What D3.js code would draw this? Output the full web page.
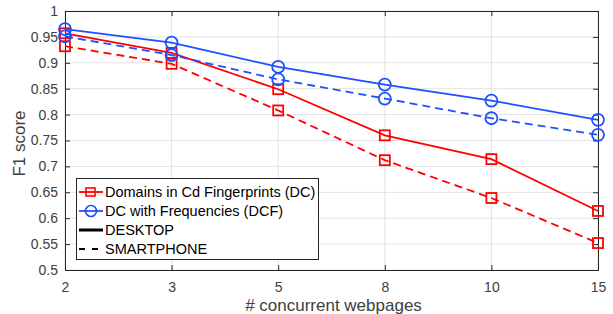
<!DOCTYPE html>
<html><head><meta charset="utf-8">
<script src="https://cdn.jsdelivr.net/npm/d3@7"></script>
<style>body{margin:0;background:#fff}svg{display:block}text{font-family:"Liberation Sans",Arial,sans-serif}</style>
</head><body>
<svg id="c" width="613" height="314"></svg>
<script>
const categories = ["2","3","5","8","10","15"];
const yTicks = [0.5,0.55,0.6,0.65,0.7,0.75,0.8,0.85,0.9,0.95,1];
const dcDesktop = [0.957,0.919,0.849,0.760,0.714,0.614];
const dcSmartphone = [0.932,0.898,0.808,0.712,0.639,0.552];
const dcfDesktop = [0.965,0.939,0.892,0.858,0.827,0.790];
const dcfSmartphone = [0.951,0.915,0.868,0.831,0.793,0.761];
const legendLabels = ["Domains in Cd Fingerprints (DC)","DC with Frequencies (DCF)","DESKTOP","SMARTPHONE"];

const RED = "#ff0000", BLUE = "#1f50ff", AX = "#262626", TX = "#404040";
const svg = d3.select("#c");
const L = 65, R = 598, T = 11, B = 270;
const x = d3.scalePoint().domain(categories).range([L, R]);
const y = d3.scaleLinear().domain([0.5, 1]).range([B, T]);

// grid
const g = svg.append("g");
g.selectAll(".gx").data(categories).enter().append("line")
  .attr("x1", d => x(d)).attr("x2", d => x(d)).attr("y1", T).attr("y2", B)
  .attr("stroke", "#e3e3e3").attr("stroke-width", 1);
g.selectAll(".gy").data(yTicks).enter().append("line")
  .attr("x1", L).attr("x2", R).attr("y1", d => y(d)).attr("y2", d => y(d))
  .attr("stroke", "#e3e3e3").attr("stroke-width", 1);

// axes
const fmt = d => d3.format("")(d);
const ax = svg.append("g").attr("transform", `translate(0,${B})`)
  .call(d3.axisBottom(x).tickSize(-5).tickPadding(12));
const ay = svg.append("g").attr("transform", `translate(${L},0)`)
  .call(d3.axisLeft(y).tickValues(yTicks).tickFormat(fmt).tickSize(-5).tickPadding(7));
const axT = svg.append("g").attr("transform", `translate(0,${T})`)
  .call(d3.axisTop(x).tickSize(-5).tickFormat(""));
const axR = svg.append("g").attr("transform", `translate(${R},0)`)
  .call(d3.axisRight(y).tickValues(yTicks).tickSize(-5).tickFormat(""));
[ax, ay, axT, axR].forEach(a => {
  a.selectAll("path").attr("stroke", AX).attr("stroke-width", 1);
  a.selectAll("line").attr("stroke", AX);
  a.selectAll("text").attr("fill", TX).style("font-size", "14px").style("font-family", '"Liberation Sans",Arial,sans-serif');
});

// series
const series = [
  {v: dcDesktop, c: RED, dash: null, m: "sq"},
  {v: dcSmartphone, c: RED, dash: "8,5", m: "sq"},
  {v: dcfDesktop, c: BLUE, dash: null, m: "ci"},
  {v: dcfSmartphone, c: BLUE, dash: "8,5", m: "ci"}
];
const line = d3.line().x((d, i) => x(categories[i])).y(d => y(d));
series.forEach(s => {
  svg.append("path").datum(s.v).attr("d", line).attr("fill", "none")
    .attr("stroke", s.c).attr("stroke-width", 1.8).attr("stroke-dasharray", s.dash);
  const mg = svg.append("g");
  if (s.m === "sq") {
    mg.selectAll("rect").data(s.v).enter().append("rect")
      .attr("x", (d, i) => x(categories[i]) - 5).attr("y", d => y(d) - 5)
      .attr("width", 10).attr("height", 10).attr("fill", "none")
      .attr("stroke", s.c).attr("stroke-width", 1.8);
  } else {
    mg.selectAll("circle").data(s.v).enter().append("circle")
      .attr("cx", (d, i) => x(categories[i])).attr("cy", d => y(d)).attr("r", 6)
      .attr("fill", "none").attr("stroke", s.c).attr("stroke-width", 1.8);
  }
});

// labels
svg.append("text").attr("x", (L + R) / 2 + 2).attr("y", 311).attr("text-anchor", "middle")
  .attr("fill", TX).style("font-size", "17px").text("# concurrent webpages");
svg.append("text").attr("transform", `translate(25,${(T + B) / 2 + 3}) rotate(-90)`)
  .attr("text-anchor", "middle").attr("fill", TX).style("font-size", "17px").text("F1 score");

// legend
const lg = svg.append("g");
lg.append("rect").attr("x", 76.5).attr("y", 178.5).attr("width", 242).attr("height", 81)
  .attr("fill", "#fff").attr("stroke", AX).attr("stroke-width", 1);
const ly = [192, 211, 230, 249];
legendLabels.forEach((t, i) => {
  const yy = ly[i];
  const col = i === 0 ? RED : i === 1 ? BLUE : "#000";
  lg.append("line").attr("x1", 79).attr("x2", 103).attr("y1", yy).attr("y2", yy)
    .attr("stroke", col).attr("stroke-width", i === 2 ? 3 : 1.8)
    .attr("stroke-dasharray", i === 3 ? "6,7" : null);
  if (i === 0) lg.append("rect").attr("x", 86).attr("y", yy - 4).attr("width", 9).attr("height", 8)
    .attr("fill", "none").attr("stroke", RED).attr("stroke-width", 1.6);
  if (i === 1) lg.append("circle").attr("cx", 91).attr("cy", yy).attr("r", 5.5)
    .attr("fill", "none").attr("stroke", BLUE).attr("stroke-width", 1.6);
  lg.append("text").attr("x", 105).attr("y", yy + 5).attr("fill", "#000")
    .style("font-size", "14.5px").text(t);
});
</script>
</body></html>
